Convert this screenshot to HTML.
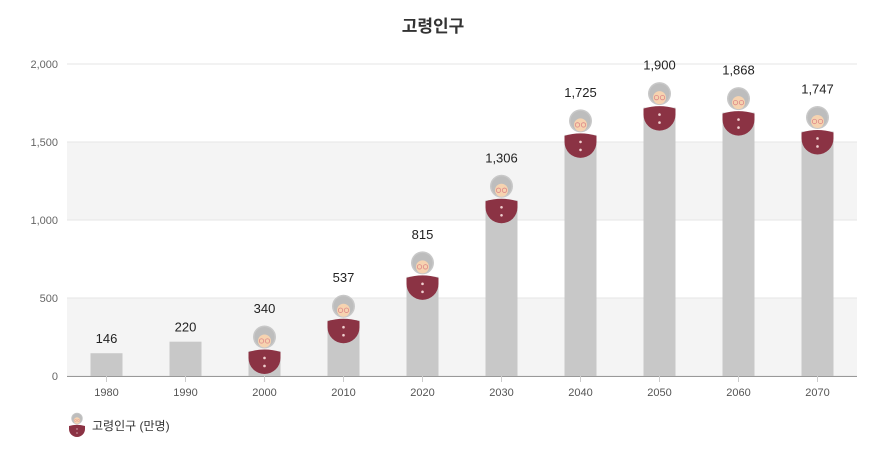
<!DOCTYPE html>
<html><head><meta charset="utf-8"><style>
body{margin:0;background:#fff;font-family:"Liberation Sans","Noto Sans CJK KR",sans-serif}
</style></head><body>
<svg id="c" width="879" height="449" xmlns="http://www.w3.org/2000/svg" font-family="Liberation Sans, Noto Sans CJK KR, sans-serif">
<text x="433" y="32" text-anchor="middle" font-size="17" font-weight="bold" fill="#333">고령인구</text>
<g id="grid"></g><g id="bars"></g>
<g>
<g id="legicon"></g>
<text x="92" y="430" font-size="12" fill="#333">고령인구 (만명)</text>
</g>
</svg>
<script>
const categories=["1980","1990","2000","2010","2020","2030","2040","2050","2060","2070"];
const values=[146,220,340,537,815,1306,1725,1900,1868,1747];
const yTicks=[0,500,1000,1500,2000];
const yTickLabels=["0","500","1,000","1,500","2,000"];
const NS="http://www.w3.org/2000/svg";
const x0=67,x1=857,y0=376,y1=64,yMax=2000;
const step=(x1-x0)/categories.length;
const xc=i=>x0+step*(i+0.5);
const y=v=>y0-(v/yMax)*(y0-y1);
function mk(t,a,p){const e=document.createElementNS(NS,t);for(const k in a)e.setAttribute(k,a[k]);(p||document.getElementById('c')).appendChild(e);return e;}
const grid=document.getElementById('grid'),bars=document.getElementById('bars');
for(let i=0;i<yTicks.length-1;i++){
 if(i%2===0){const r=mk('rect',{x:x0,y:y(yTicks[i+1]),width:x1-x0,height:y(yTicks[i])-y(yTicks[i+1]),fill:'#f4f4f4'},grid);
 }
}
yTicks.forEach((t,i)=>{
 const l=mk('line',{x1:x0,x2:x1,y1:y(t),y2:y(t),stroke:'#e6e6e6'},grid);
 
 const tx=mk('text',{x:58,y:y(t)+4,'text-anchor':'end','font-size':11,fill:'#666'},grid);tx.textContent=yTickLabels[i];
 
});
const ax=mk('line',{x1:x0,x2:x1,y1:y0+0.5,y2:y0+0.5,stroke:'#999'},grid);

function icon(cx,top,s,p){
 const g=mk('g',{transform:`translate(${cx},${top}) scale(${s})`},p);
 mk('circle',{cx:0,cy:11,r:11.5,fill:'#c8c8c8'},g);
 mk('circle',{cx:0,cy:11,r:10,fill:'#bdbdbd'},g);
 mk('ellipse',{cx:0,cy:15,rx:6.5,ry:6.5,fill:'#f6d3b0'},g);
 mk('circle',{cx:-3,cy:15,r:2.2,fill:'none',stroke:'#d88',"stroke-width":0.8},g);
 mk('circle',{cx:3,cy:15,r:2.2,fill:'none',stroke:'#d88',"stroke-width":0.8},g);
 mk('path',{d:'M-16 26 Q0 21 16 26 L16 32 A16 16 0 0 1 -16 32Z',fill:'#8b3344'},g);
 mk('circle',{cx:0,cy:32,r:1.3,fill:'#f0d0d0'},g);mk('circle',{cx:0,cy:40,r:1.3,fill:'#f0d0d0'},g);
 return g;
}
categories.forEach((c,i)=>{
 const v=values[i],cx=xc(i),top=y(v);
 const hasIcon=v>=300;
 const bt=hasIcon?top+28:top;
 const b=mk('rect',{x:cx-16,y:bt,width:32,height:Math.max(0,y0-bt),fill:'#c8c8c8'},bars);
 
 if(hasIcon){const g=icon(cx,top+3,1,bars);}
 const lt=mk('text',{x:cx,y:top-10,'text-anchor':'middle','font-size':13,fill:'#222'},bars);
 lt.textContent=v.toLocaleString('en-US');
 
 const tk=mk('line',{x1:cx,x2:cx,y1:y0,y2:y0+6,stroke:'#ccc'},bars);
 
 const xt=mk('text',{x:cx,y:396,'text-anchor':'middle','font-size':11,fill:'#555'},bars);xt.textContent=c;
 
});
icon(77,413,0.5,document.getElementById('legicon'));
</script>
</body></html>
